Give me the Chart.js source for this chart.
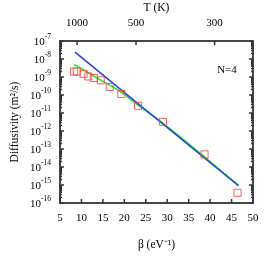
<!DOCTYPE html>
<html>
<head>
<meta charset="utf-8">
<script src="https://cdn.jsdelivr.net/npm/chart.js@4.4.1/dist/chart.umd.min.js"></script>
<style>
  html, body { margin: 0; padding: 0; background: #fff; }
  #wrap { width: 274px; height: 274px; }
</style>
</head>
<body>
<div id="wrap"><canvas id="diffChart"></canvas></div>
<script>
// simulated points (beta in 1/eV, diffusivity in m^2/s)
const betaSim = [8.3, 8.9, 10.5, 11.6, 12.9, 14.5, 16.6, 19.3, 23.2, 29.0, 38.7, 46.4];
const diffSim = [2.0e-9, 2.0e-9, 1.5e-9, 1.07e-9, 8.7e-10, 6.5e-10, 2.8e-10, 1.15e-10, 2.5e-11, 3.2e-12, 5.0e-14, 3.7e-16];

// Arrhenius fit (blue) and second fit (green)
const betaBlue = [8.5, 46.6];
const diffBlue = [2.4e-8, 9.1e-16];
const betaGreen = [8.3, 13.6, 19.0, 23.6, 29.5, 46.6];
const diffGreen = [5.0e-9, 8.9e-10, 1.6e-10, 2.3e-11, 2.2e-12, 9.8e-16];

const betaTicks = [5, 10, 15, 20, 25, 30, 35, 40, 45, 50];
const diffExponents = [-16, -15, -14, -13, -12, -11, -10, -9, -8, -7];
const tempTicks = [1000, 500, 300];

const textColor = '#000';
const serif = '"Liberation Serif", "Times New Roman", serif';

function pts(xs, ys) {
  return xs.map((x, i) => ({ x: x, y: ys[i] }));
}

// frame, inward ticks and superscript labels like gnuplot
const framePlugin = {
  id: 'frame',
  afterDraw(chart) {
    const ctx = chart.ctx;
    const a = chart.chartArea;
    const xs = chart.scales.x, ys = chart.scales.y, x2 = chart.scales.x2;
    ctx.save();
    ctx.strokeStyle = '#333';
    ctx.lineWidth = 1.5;
    ctx.beginPath();
    betaTicks.forEach(v => {
      const px = xs.getPixelForValue(v);
      ctx.moveTo(px, a.bottom); ctx.lineTo(px, a.bottom - 4);
    });
    tempTicks.forEach(t => {
      const px = x2.getPixelForValue(1000 / t);
      ctx.moveTo(px, a.top); ctx.lineTo(px, a.top + 4);
    });
    diffExponents.forEach(e => {
      const py = ys.getPixelForValue(Math.pow(10, e));
      ctx.moveTo(a.left, py); ctx.lineTo(a.left + 4, py);
      ctx.moveTo(a.right, py); ctx.lineTo(a.right - 4, py);
      if (e < -7) {
        for (let m = 2; m <= 9; m++) {
          const pm = ys.getPixelForValue(m * Math.pow(10, e));
          ctx.moveTo(a.left, pm); ctx.lineTo(a.left + 2, pm);
          ctx.moveTo(a.right, pm); ctx.lineTo(a.right - 2, pm);
        }
      }
    });
    ctx.stroke();
    ctx.lineWidth = 1.8;
    ctx.strokeRect(a.left, a.top, a.right - a.left, a.bottom - a.top);

    // y tick labels 10^n
    ctx.fillStyle = textColor;
    ctx.textBaseline = 'middle';
    diffExponents.forEach(e => {
      const py = ys.getPixelForValue(Math.pow(10, e));
      ctx.font = '7.5px ' + serif;
      const sup = String(e);
      const sw = ctx.measureText(sup).width;
      ctx.textAlign = 'left';
      const right = a.left - 9;
      ctx.fillText(sup, right - sw, py - 4);
      ctx.font = '11px ' + serif;
      ctx.textAlign = 'right';
      ctx.fillText('10', right - sw, py + 1);
    });

    // N=4 label
    ctx.font = '11px ' + serif;
    ctx.textAlign = 'center';
    ctx.fillText('N=4', 227, 70);
    ctx.restore();
  }
};

const ctx = document.getElementById('diffChart').getContext('2d');
new Chart(ctx, {
  type: 'scatter',
  data: {
    datasets: [
      {
        label: 'fit 1',
        data: pts(betaBlue, diffBlue),
        showLine: true,
        borderColor: '#1f3fe0',
        borderWidth: 1.5,
        pointRadius: 0,
        order: 1
      },
      {
        label: 'fit 2',
        data: pts(betaGreen, diffGreen),
        showLine: true,
        borderColor: '#22dd22',
        borderWidth: 1.5,
        pointRadius: 0,
        cubicInterpolationMode: 'monotone',
        order: 2
      },
      {
        label: 'simulation',
        data: pts(betaSim, diffSim),
        pointStyle: 'rect',
        pointRadius: 5,
        borderColor: 'rgba(240, 70, 60, 0.85)',
        backgroundColor: 'rgba(0,0,0,0)',
        borderWidth: 1,
        order: 0
      }
    ]
  },
  options: {
    responsive: true,
    maintainAspectRatio: false,
    animation: false,
    layout: { padding: { right: 21 } },
    plugins: {
      legend: { display: false },
      tooltip: { enabled: false }
    },
    scales: {
      x: {
        type: 'linear',
        position: 'bottom',
        min: 5,
        max: 50,
        afterBuildTicks: s => { s.ticks = betaTicks.map(v => ({ value: v })); },
        afterFit: s => { s.height = 71; },
        grid: { display: false, drawTicks: false },
        border: { display: false },
        ticks: {
          padding: 9,
          color: textColor,
          maxRotation: 0,
          font: { family: serif, size: 11 }
        },
        title: {
          display: true,
          text: 'β (eV⁻¹)',
          color: textColor,
          padding: { top: 0, bottom: 22 },
          font: { family: serif, size: 11.5 }
        }
      },
      x2: {
        type: 'linear',
        position: 'top',
        min: 0.71,
        max: 3.985,
        afterBuildTicks: s => { s.ticks = tempTicks.map(t => ({ value: 1000 / t })); },
        afterFit: s => { s.height = 41; },
        grid: { display: false, drawTicks: false },
        border: { display: false },
        ticks: {
          padding: 11,
          color: textColor,
          maxRotation: 0,
          font: { family: serif, size: 11 },
          callback: v => String(Math.round(1000 / v))
        },
        title: {
          display: true,
          text: 'T (K)',
          color: textColor,
          padding: { top: 1, bottom: 0 },
          font: { family: serif, size: 11.5 }
        }
      },
      y: {
        type: 'logarithmic',
        position: 'left',
        min: 1e-16,
        max: 1e-7,
        afterBuildTicks: s => { s.ticks = diffExponents.map(e => ({ value: Math.pow(10, e) })); },
        afterFit: s => { s.width = 60; },
        grid: { display: false, drawTicks: false },
        border: { display: false },
        ticks: { callback: () => '' },
        title: {
          display: true,
          text: 'Diffusivity (m²/s)',
          color: textColor,
          padding: { top: 8, bottom: 0 },
          font: { family: serif, size: 11.5 }
        }
      }
    }
  },
  plugins: [framePlugin]
});
</script>
</body>
</html>
